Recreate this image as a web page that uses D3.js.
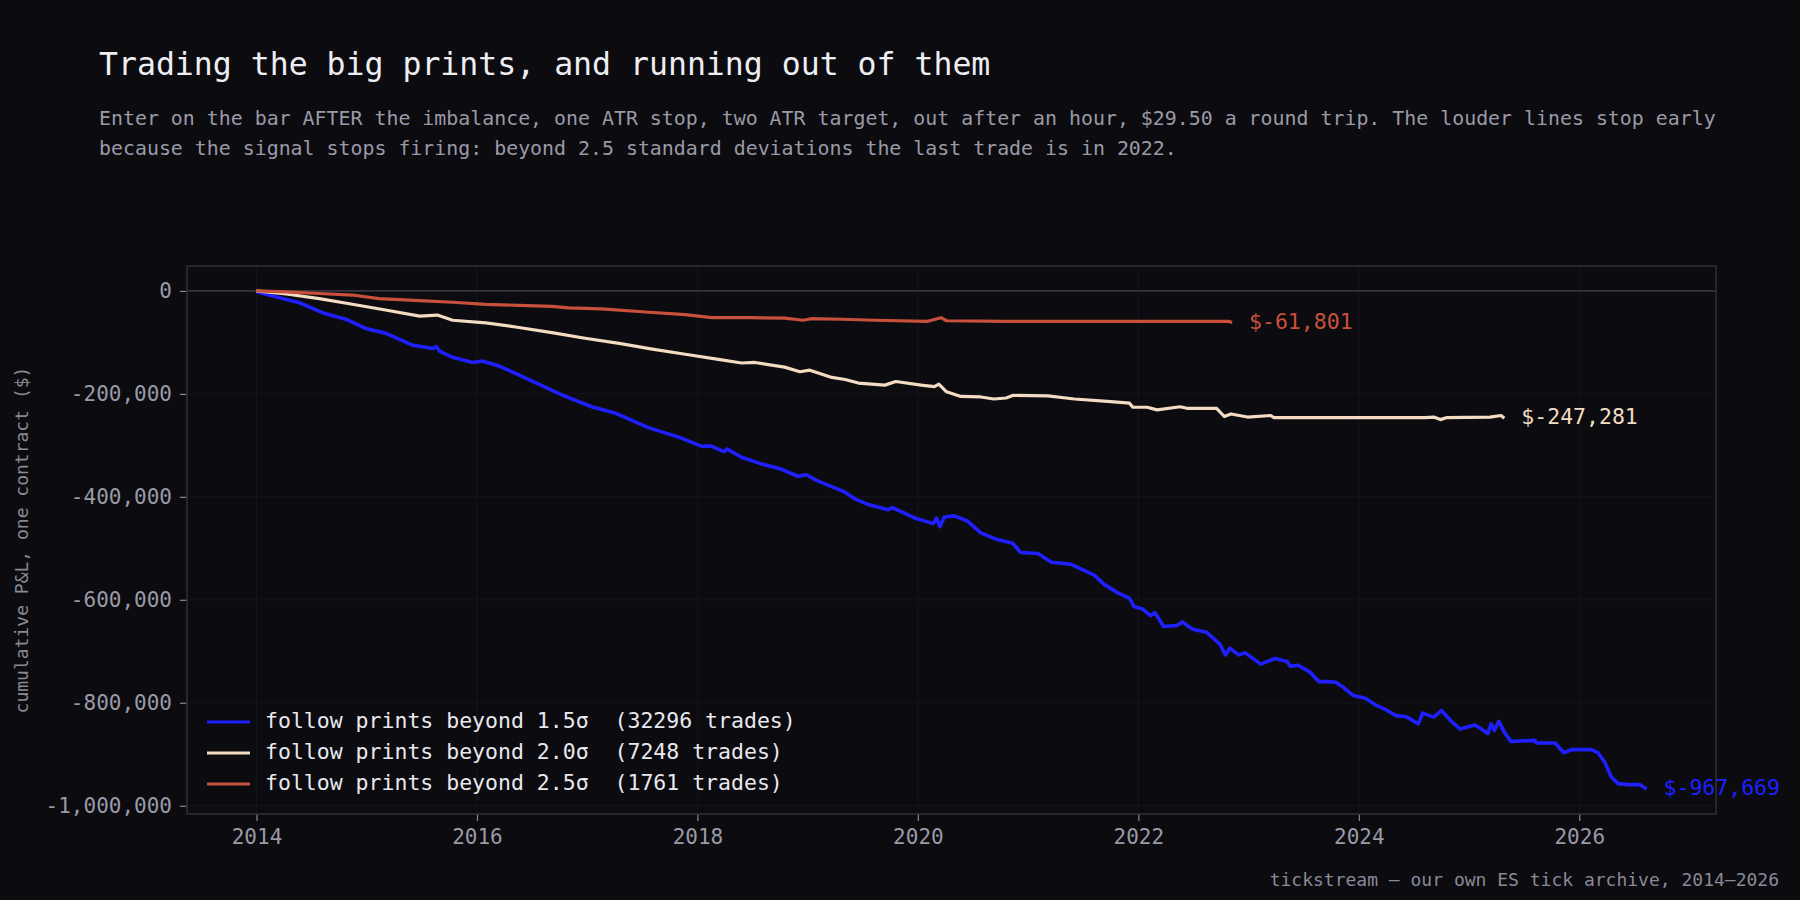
<!DOCTYPE html>
<html>
<head>
<meta charset="utf-8">
<script src="https://cdn.jsdelivr.net/npm/d3@7"></script>
<style>
  html, body { margin: 0; padding: 0; background: #0b0b10; }
  svg { display: block; }
  text { font-family: "DejaVu Sans Mono", monospace; white-space: pre; }
</style>
</head>
<body>
<script>
// cumulative P&L per threshold, [decimal year, dollars]
var pnl15 = [
    [2014.00, 0], [2014.01, -2000], [2014.24, -15000], [2014.39, -23000], [2014.62, -44000],
    [2014.81, -55000], [2014.99, -73000], [2015.17, -82000], [2015.41, -105000], [2015.60, -112000],
    [2015.63, -108000], [2015.66, -117000], [2015.78, -129000], [2015.96, -139000], [2016.05, -136000],
    [2016.20, -146000], [2016.35, -160000], [2016.53, -178000], [2016.77, -202000], [2017.04, -225000],
    [2017.25, -237000], [2017.56, -266000], [2017.83, -284000], [2018.04, -302000], [2018.12, -301000],
    [2018.24, -312000], [2018.27, -307000], [2018.40, -323000], [2018.58, -336000], [2018.76, -346000],
    [2018.91, -360000], [2018.99, -357000], [2019.08, -368000], [2019.34, -391000], [2019.43, -404000],
    [2019.55, -415000], [2019.73, -425000], [2019.77, -421000], [2019.97, -441000], [2020.14, -452000],
    [2020.17, -441000], [2020.20, -458000], [2020.24, -439000], [2020.33, -437000], [2020.45, -447000],
    [2020.57, -470000], [2020.72, -483000], [2020.86, -490000], [2020.93, -508000], [2021.09, -510000],
    [2021.21, -527000], [2021.39, -531000], [2021.60, -552000], [2021.69, -570000], [2021.81, -586000],
    [2021.92, -597000], [2021.96, -613000], [2022.04, -618000], [2022.11, -631000], [2022.15, -625000],
    [2022.23, -652000], [2022.35, -650000], [2022.40, -643000], [2022.49, -657000], [2022.62, -663000],
    [2022.74, -686000], [2022.79, -707000], [2022.83, -694000], [2022.91, -707000], [2022.97, -703000],
    [2023.11, -725000], [2023.24, -714000], [2023.35, -720000], [2023.38, -729000], [2023.45, -727000],
    [2023.56, -741000], [2023.64, -759000], [2023.71, -759000], [2023.79, -760000], [2023.86, -770000],
    [2023.95, -786000], [2024.06, -791000], [2024.15, -804000], [2024.24, -813000], [2024.34, -825000],
    [2024.43, -827000], [2024.54, -841000], [2024.58, -820000], [2024.68, -828000], [2024.75, -815000],
    [2024.84, -836000], [2024.92, -851000], [2025.05, -843000], [2025.10, -849000], [2025.17, -860000],
    [2025.20, -841000], [2025.23, -854000], [2025.27, -836000], [2025.32, -857000], [2025.38, -875000],
    [2025.60, -873000], [2025.61, -878000], [2025.78, -878000], [2025.86, -897000], [2025.93, -891000],
    [2026.11, -891000], [2026.17, -897000], [2026.23, -915000], [2026.27, -934000], [2026.29, -944000],
    [2026.35, -957000], [2026.45, -959000], [2026.55, -959000], [2026.61, -967669]
];

var pnl20 = [
    [2014.00, 0], [2014.27, -6000], [2014.57, -15000], [2014.87, -26000], [2015.17, -37000],
    [2015.48, -49000], [2015.64, -47000], [2015.78, -57000], [2016.08, -62000], [2016.38, -71000],
    [2016.68, -81000], [2016.98, -92000], [2017.29, -102000], [2017.59, -113000], [2017.89, -123000],
    [2018.19, -133000], [2018.40, -140000], [2018.52, -139000], [2018.79, -148000], [2018.93, -157000],
    [2019.02, -154000], [2019.22, -168000], [2019.34, -172000], [2019.46, -179000], [2019.70, -183000],
    [2019.80, -176000], [2020.03, -183000], [2020.15, -186000], [2020.19, -181000], [2020.26, -196000],
    [2020.39, -205000], [2020.57, -206000], [2020.69, -210000], [2020.80, -208000], [2020.86, -203000],
    [2021.18, -204000], [2021.42, -210000], [2021.75, -215000], [2021.92, -218000], [2021.95, -226000],
    [2022.08, -226000], [2022.17, -231000], [2022.38, -225000], [2022.44, -228000], [2022.71, -228000],
    [2022.78, -244000], [2022.84, -239000], [2022.99, -245000], [2023.20, -242000], [2023.23, -246000],
    [2024.60, -246000], [2024.68, -245000], [2024.74, -250000], [2024.80, -246000], [2025.19, -245000],
    [2025.29, -242000], [2025.32, -247281]
];

var pnl25 = [
    [2014.00, 0], [2014.27, -2000], [2014.57, -5000], [2014.87, -8000], [2015.11, -15000],
    [2015.48, -19000], [2015.78, -22000], [2016.08, -26000], [2016.38, -28000], [2016.68, -30000],
    [2016.83, -33000], [2017.13, -35000], [2017.53, -41000], [2017.89, -46000], [2018.13, -52000],
    [2018.49, -52000], [2018.79, -53000], [2018.96, -57000], [2019.03, -54000], [2019.31, -55000],
    [2019.61, -57000], [2020.09, -59000], [2020.21, -52000], [2020.26, -58000], [2020.81, -59000],
    [2021.57, -59000], [2022.32, -59000], [2022.82, -59000], [2022.85, -61801]
];

var seriesNames = ["follow prints beyond 1.5σ  (32296 trades)",
                   "follow prints beyond 2.0σ  (7248 trades)",
                   "follow prints beyond 2.5σ  (1761 trades)"];
var seriesColors = ["#1f1fff", "#f3dcc2", "#c9513c"];
var xTickValues = [2014, 2016, 2018, 2020, 2022, 2024, 2026];
var yTickValues = [0, -200000, -400000, -600000, -800000, -1000000];

var width = 1800,
    height = 900,
    margin = {top: 266, right: 84, bottom: 86, left: 187};

var allSeries = [pnl15, pnl20, pnl25];
var allPoints = d3.merge(allSeries);

var xExt = d3.extent(allPoints, function(d) { return d[0]; });
var yExt = d3.extent(allPoints, function(d) { return d[1]; });
var xPad = (xExt[1] - xExt[0]) * 0.05,
    yPad = (yExt[1] - yExt[0]) * 0.05;

var x = d3.scaleLinear()
    .domain([xExt[0] - xPad, xExt[1] + xPad])
    .range([margin.left, width - margin.right]);

var y = d3.scaleLinear()
    .domain([yExt[0] - yPad, yExt[1] + yPad])
    .range([height - margin.bottom, margin.top]);

// plain hyphen for negatives, like the reference
var money = function(v) { return d3.format(",")(v).replace("\u2212", "-"); };

var svg = d3.select("body")
    .append("svg")
    .attr("width", width)
    .attr("height", height);

svg.append("rect")
    .attr("width", width)
    .attr("height", height)
    .attr("fill", "#0b0b10");

// titles
svg.append("text")
    .attr("x", 99)
    .attr("y", 75)
    .attr("font-size", "31.5px")
    .attr("fill", "#eeeef2")
    .text("Trading the big prints, and running out of them");

svg.append("text")
    .attr("x", 99)
    .attr("y", 125)
    .attr("font-size", "19.9px")
    .attr("fill", "#9a9aa6")
    .text("Enter on the bar AFTER the imbalance, one ATR stop, two ATR target, out after an hour, $29.50 a round trip. The louder lines stop early");

svg.append("text")
    .attr("x", 99)
    .attr("y", 155)
    .attr("font-size", "19.9px")
    .attr("fill", "#9a9aa6")
    .text("because the signal stops firing: beyond 2.5 standard deviations the last trade is in 2022.");

svg.append("text")
    .attr("x", 1779)
    .attr("y", 886)
    .attr("text-anchor", "end")
    .attr("font-size", "18px")
    .attr("fill", "#8a8a96")
    .text("tickstream — our own ES tick archive, 2014–2026");

// grid
var grid = svg.append("g");
grid.selectAll(".gx")
    .data(xTickValues)
    .enter()
    .append("line")
    .attr("x1", function(d) { return x(d); })
    .attr("x2", function(d) { return x(d); })
    .attr("y1", margin.top)
    .attr("y2", height - margin.bottom)
    .attr("stroke", "#15151b")
    .attr("stroke-width", 1);

grid.selectAll(".gy")
    .data(yTickValues)
    .enter()
    .append("line")
    .attr("x1", margin.left)
    .attr("x2", width - margin.right)
    .attr("y1", function(d) { return y(d); })
    .attr("y2", function(d) { return y(d); })
    .attr("stroke", "#15151b")
    .attr("stroke-width", 1);

// zero line
svg.append("line")
    .attr("x1", margin.left)
    .attr("x2", width - margin.right)
    .attr("y1", y(0))
    .attr("y2", y(0))
    .attr("stroke", "#35343f")
    .attr("stroke-width", 1.6);

// axes
var xAxis = svg.append("g")
    .attr("transform", "translate(0," + (height - margin.bottom) + ")")
    .call(d3.axisBottom(x).tickValues(xTickValues).tickFormat(d3.format("d")).tickSize(7).tickPadding(8));

var yAxis = svg.append("g")
    .attr("transform", "translate(" + margin.left + ",0)")
    .call(d3.axisLeft(y).tickValues(yTickValues).tickFormat(money).tickSize(7).tickPadding(8));

[xAxis, yAxis].forEach(function(g) {
    g.select(".domain").remove();
    g.selectAll(".tick line").attr("stroke", "#8a8a96").attr("stroke-width", 1.2);
    g.selectAll(".tick text")
        .attr("fill", "#9a9aa6")
        .attr("font-size", "21px")
        .attr("font-family", "DejaVu Sans Mono, monospace");
});

// frame
svg.append("rect")
    .attr("x", margin.left)
    .attr("y", margin.top)
    .attr("width", width - margin.left - margin.right)
    .attr("height", height - margin.top - margin.bottom)
    .attr("fill", "none")
    .attr("stroke", "#2e2d38")
    .attr("stroke-width", 1.6);

svg.append("text")
    .attr("transform", "translate(23," + ((margin.top + height - margin.bottom) / 2) + ") rotate(-90)")
    .attr("text-anchor", "middle")
    .attr("dominant-baseline", "middle")
    .attr("font-size", "18px")
    .attr("fill", "#8a8a96")
    .text("cumulative P&L, one contract ($)");

var line = d3.line()
    .x(function(d) { return x(d[0]); })
    .y(function(d) { return y(d[1]); });

svg.selectAll(".pnl")
    .data(allSeries)
    .enter()
    .append("path")
    .attr("d", line)
    .attr("fill", "none")
    .attr("stroke", function(d, i) { return seriesColors[i]; })
    .attr("stroke-width", function(d, i) { return i === 0 ? 3.6 : 3.2; })
    .attr("stroke-linejoin", "round");

// end labels
svg.selectAll(".endlabel")
    .data(allSeries)
    .enter()
    .append("text")
    .attr("x", function(d) { return x(d[d.length - 1][0]) + 17; })
    .attr("y", function(d) { return y(d[d.length - 1][1]); })
    .attr("dominant-baseline", "middle")
    .attr("font-size", "21.5px")
    .attr("fill", function(d, i) { return seriesColors[i]; })
    .text(function(d) {
        var v = d[d.length - 1][1];
        return "$" + money(v);
    });

// legend
var legend = svg.append("g")
    .attr("transform", "translate(207,722)");

var rows = legend.selectAll("g")
    .data(seriesNames)
    .enter()
    .append("g")
    .attr("transform", function(d, i) { return "translate(0," + (i * 31) + ")"; });

rows.append("line")
    .attr("x1", 0)
    .attr("x2", 43)
    .attr("stroke", function(d, i) { return seriesColors[i]; })
    .attr("stroke-width", 3);

rows.append("text")
    .attr("x", 58)
    .attr("dominant-baseline", "middle")
    .attr("font-size", "21.5px")
    .attr("fill", "#e8e8ee")
    .text(function(d) { return d; });
</script>
</body>
</html>
